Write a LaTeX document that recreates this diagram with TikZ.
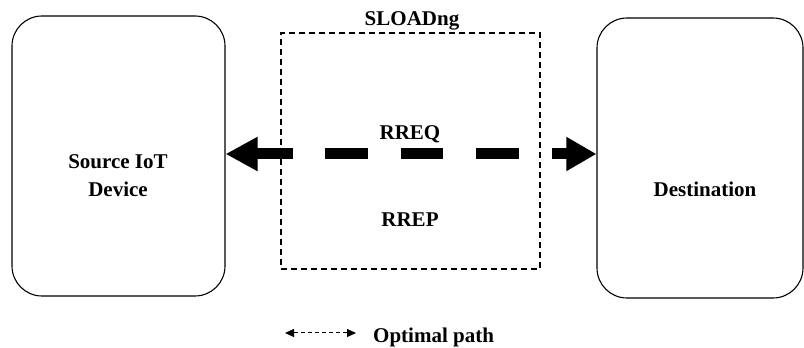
\documentclass[tikz,border=0pt]{standalone}
\usepackage{fontspec}
\setmainfont{Liberation Serif}
\usetikzlibrary{arrows.meta,calc}
\begin{document}
\begin{tikzpicture}[x=1pt,y=1pt,
  lbl/.style={font=\fontsize{21}{27}\selectfont\bfseries, inner sep=0pt, align=center},
  devbox/.style={draw=black, line width=1.1pt, rounded corners=30pt, inner sep=0pt},
  grpbox/.style={draw=black, line width=1.2pt, dash pattern=on 6pt off 4pt, inner sep=0pt},
  bigarrow/.style={line width=11pt, {Triangle[length=32pt,width=32pt]}-{Triangle[length=30pt,width=32pt]},
    dash pattern=on 37pt off 32pt on 43pt off 33pt on 42pt off 33pt on 43pt off 33pt on 30pt},
  legarrow/.style={line width=1pt, {Triangle[length=9pt,width=8pt]}-{Triangle[length=9pt,width=8pt]},
    dash pattern=on 4pt off 3pt}
]
\useasboundingbox (0,0) rectangle (804,348);
% boxes
\node[devbox, minimum width=213pt, minimum height=280pt] (src) at (118.5,192) {};
\node[devbox, minimum width=206pt, minimum height=280pt] (dst) at (700,190) {};
\node[grpbox, minimum width=259pt, minimum height=236pt] (grp) at (410.5,197) {};
% labels
\node[lbl, anchor=base] (sload) at (412,322) {SLOADng};
\node[lbl, anchor=base] (rreq) at (410,208) {RREQ};
\node[lbl, anchor=base] (rrep) at (410,121) {RREP};
\node[lbl, anchor=base] (srctxt) at (118,179) {Source IoT};
\node[lbl, anchor=base] (srctxt2) at (118,151) {Device};
\node[lbl, anchor=base] (dsttxt) at (705,151) {Destination};
% main arrow
\coordinate (ax) at (0,194);
\draw[bigarrow] (src.east |- ax) -- (dst.west |- ax);
% legend
\coordinate (la) at (285,15);
\coordinate (lb) at (356,15);
\draw[legarrow] (la) -- (lb);
\node[lbl, anchor=base west] (legtxt) at (373,5) {Optimal path};
\end{tikzpicture}
\end{document}
